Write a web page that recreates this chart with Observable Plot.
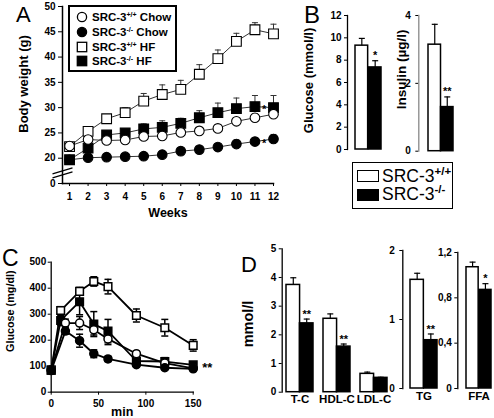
<!DOCTYPE html>
<html><head><meta charset="utf-8">
<script src="https://cdn.jsdelivr.net/npm/d3@7"></script>
<script src="https://cdn.jsdelivr.net/npm/@observablehq/plot@0.6"></script>
<style>
html,body{margin:0;padding:0;background:#fff;}
#fig{position:relative;width:494px;height:418px;background:#fff;overflow:hidden;font-family:"Liberation Sans",Arial,sans-serif;color:#000;}
.letter{position:absolute;font-size:22px;line-height:1;font-weight:normal;}
.leg{position:absolute;box-sizing:border-box;background:#fff;}
.row{position:absolute;display:flex;align-items:center;white-space:nowrap;}
.legA .row{font-size:11.5px;font-weight:bold;height:14px;}
.legA sup{font-size:7px;vertical-align:0;position:relative;top:-4px;}
.legB .row{font-size:17.5px;font-weight:normal;height:18px;}
.legB sup{font-size:11.5px;font-weight:bold;vertical-align:0;position:relative;top:-7px;}
</style></head>
<body><div id="fig"></div>
<script>
// ---------------- Panel A: body weight ----------------
const weeks = [1,2,3,4,5,6,7,8,9,10,11,12];
const wtChow    = [22.4,23.7,23.5,23.6,24.3,24.4,25.1,25.4,25.9,27.3,28.0,28.7];
const wtChowErr = [0.5,0.5,0.5,0.5,0.5,0.5,0.5,0.5,0.6,0.6,0.8,0.6];
const koChow    = [19.7,20.1,20.2,20.3,20.4,20.7,21.4,21.7,22.2,22.8,23.3,23.8];
const koChowErr = [0.5,0.4,0.7,0.4,0.4,0.7,0.5,0.6,0.7,0.8,0.7,0.9];
const wtHF      = [22.3,25.3,27.8,29.0,31.3,32.6,33.6,36.6,39.7,43.1,45.4,44.6];
const wtHFErr   = [0.6,0.5,0.5,1.0,1.5,1.9,1.8,1.9,1.7,1.6,1.4,1.9];
const koHF      = [19.7,22.0,24.6,25.0,25.8,26.1,26.9,28.0,29.0,29.8,30.2,30.0];
const koHFErr   = [0.4,0.5,0.5,0.7,1.0,1.3,1.0,1.4,1.9,2.1,2.2,2.4];
const yTicksA = [15,20,25,30,35,40,45,50];
const yBreakA = 15;          // broken axis: bottom tick is labelled "0"
const breakMarkA = 17.3;     // position of the "//" axis break
const starWeeksA = [11.5,11.5];
const starValuesA = [30.3,23.5];
const starLabelsA = ["*","*"];
const legendA = [
  ["SRC-3","+/+"," Chow","circle","white"],
  ["SRC-3","-/-"," Chow","circle","black"],
  ["SRC-3","+/+"," HF","square","white"],
  ["SRC-3","-/-"," HF","square","black"]
];

// ---------------- Panel B: fasting glucose / insulin ----------------
const genoCat = ["fasting"];
const glucoseWT = [9.3],  glucoseWTErr = [0.65];
const glucoseKO = [7.35], glucoseKOErr = [0.6];
const glucoseStar = ["*"];
const glucoseTicks = [0,2,4,6,8,10,12];
const insulinWT = [3.14], insulinWTErr = [0.6];
const insulinKO = [1.3],  insulinKOErr = [0.3];
const insulinStar = ["**"];
const insulinTicks = [0,2,4];
const legendB = [["SRC-3","+/+","white"],["SRC-3","-/-","black"]];

// ---------------- Panel C: glucose tolerance test ----------------
const minSq   = [0,10,30,45,60,90,120,150];
const minCirc = [0,15,30,45,60,90,120,150];
const cWtHF      = [85,314,388,426,406,295,248,180];
const cWtHFErr   = [10,15,15,18,28,25,32,22];
const cKoHF      = [85,276,348,262,235,120,118,105];
const cKoHFErr   = [10,20,50,48,45,12,15,10];
const cWtChow    = [86,266,266,240,205,148,112,92];
const cWtChowErr = [8,15,25,20,22,10,8,6];
const cKoChow    = [83,235,198,148,128,106,94,90];
const cKoChowErr = [8,12,25,15,10,8,6,5];
const cTicksX = [0,50,100,150];
const cTicksY = [0,100,200,300,400,500];
const cStarX = [150], cStarY = [105], cStarLabel = ["**"];

// ---------------- Panel D: serum lipids ----------------
const lipidCats = ["T-C","HDL-C","LDL-C"];
const lipidWT = [3.74,2.56,0.64], lipidWTErr = [0.25,0.17,0.06];
const lipidKO = [2.40,1.59,0.50], lipidKOErr = [0.15,0.09,0.02];
const lipidStars = ["**","**",""];
const lipidTicks = [0,1,2,3,4,5];
const tgCat = ["TG"];
const tgWT = [1.575], tgWTErr = [0.095];
const tgKO = [0.70],  tgKOErr = [0.09];
const tgStars = ["**"];
const tgTicks = [0,1,2];
const ffaCat = ["FFA"];
const ffaWT = [1.07], ffaWTErr = [0.045];
const ffaKO = [0.87], ffaKOErr = [0.055];
const ffaStars = ["*"];
const ffaTicks = [0,0.4,0.8,1.2];

// ================= helpers =================
const FONT = "'Liberation Sans', Arial, sans-serif";
const fig = document.getElementById("fig");
const style = (left, top) => ({position:"absolute", left:left+"px", top:top+"px", background:"transparent",
  overflow:"visible", fontFamily:FONT, fontSize:"10px", fontWeight:"bold", color:"black", maxWidth:"none"});
const cap = w => ({draw(ctx){ ctx.moveTo(-w/2,0); ctx.lineTo(w/2,0); }});
const breakSym = {draw(ctx){ ctx.moveTo(-10,2); ctx.lineTo(10,-4); ctx.moveTo(-10,6); ctx.lineTo(10,0); }};
const rows = (xs, vs, es) => xs.map((x,i)=>({x, v:vs[i], e:es[i]}));
const ytitle = (label, dx, dy, size) => Plot.text([label], {text:d=>d, frameAnchor:"left", textAnchor:"middle", lineAnchor:"middle",
  dx, dy, rotate:-90, fontSize:size || 12.5, fontWeight:"bold"});
const xtitle = (label, dy) => Plot.text([label], {text:d=>d, frameAnchor:"bottom", textAnchor:"middle", lineAnchor:"middle",
  dy, fontSize:12.5, fontWeight:"bold"});
function place(svg){ fig.appendChild(svg); }

// ================= Panel A =================
{
  const seriesA = [
    {v:wtHF, e:wtHFErr, symbol:"square", fill:"white", r:5.5},
    {v:koHF, e:koHFErr, symbol:"square", fill:"black", r:5.5},
    {v:wtChow, e:wtChowErr, symbol:"circle", fill:"white", r:4.8},
    {v:koChow, e:koChowErr, symbol:"circle", fill:"black", r:4.8}
  ].map(s => ({...s, d: rows(weeks, s.v, s.e)}));
  const stars = starWeeksA.map((w,i)=>({x:w, y:starValuesA[i], t:starLabelsA[i]}));
  const marks = [
    Plot.axisX({ticks:weeks, tickSize:3, tickPadding:6, label:null, fontWeight:"bold"}),
    Plot.axisY({ticks:yTicksA, tickFormat:d => d===yBreakA ? "0" : String(d), tickSize:4, tickPadding:3, label:null, fontWeight:"bold"}),
    Plot.frame({anchor:"left", strokeWidth:1.5}),
    Plot.frame({anchor:"bottom", strokeWidth:1.5}),
    Plot.dot([breakMarkA], {x:() => 0.62, y:d=>d, symbol:breakSym, stroke:"black", strokeWidth:1.2, fill:"none"}),
    ...seriesA.map(s => Plot.line(s.d, {x:"x", y:"v", stroke:"#333", strokeWidth:1})),
    ...seriesA.map(s => Plot.ruleX(s.d, {x:"x", y1:"v", y2:d=>d.v+d.e, stroke:"#333", strokeWidth:1})),
    ...seriesA.map(s => Plot.dot(s.d, {x:"x", y:d=>d.v+d.e, symbol:cap(6), stroke:"#333", strokeWidth:1})),
    ...seriesA.map(s => Plot.dot(s.d, {x:"x", y:"v", symbol:s.symbol, r:s.r, fill:s.fill, stroke:"black", strokeWidth:1.1})),
    Plot.text(stars, {x:"x", y:"y", text:"t", dy:3, fontSize:11, fontWeight:"bold"}),
    ytitle("Body weight (g)", -39, -11, 13),
    xtitle("Weeks", 29)
  ];
  place(Plot.plot({width:290, height:225, marginLeft:62, marginTop:6, marginBottom:42, marginRight:17,
    x:{domain:[0.62,12]}, y:{domain:[15,50]}, style:style(0,0), marks}));
}

// ================= bar panel helper =================
function barPanel(o){
  const band = d3.scaleBand().domain(o.cats).range(o.xRange).paddingInner(o.pad||0).paddingOuter(0);
  const bw = band.bandwidth();
  const wt = rows(o.cats, o.wt, o.wtErr), ko = rows(o.cats, o.ko, o.koErr).map((d,i)=>({...d, s:o.stars[i]}));
  const marks = [
    Plot.axisY({ticks:o.ticks, tickFormat:o.fmt || (d=>String(d)), tickSize:3, tickPadding:o.tp ?? 3, label:null, fontWeight:"bold"}),
    Plot.frame({anchor:"left", stroke:o.axisColor || "black", strokeWidth:1.3}),
    Plot.barY(wt, {x:"x", y:"v", fill:"white", stroke:"black", strokeWidth:1.5, insetRight:bw/2}),
    Plot.barY(ko, {x:"x", y:"v", fill:"black", stroke:"black", strokeWidth:1.5, insetLeft:bw/2}),
    Plot.ruleX(wt, {x:"x", y1:"v", y2:d=>d.v+d.e, dx:-bw/4, stroke:"black", strokeWidth:1.2}),
    Plot.dot(wt, {x:"x", y:d=>d.v+d.e, dx:-bw/4, symbol:cap(6), stroke:"black", strokeWidth:1.2}),
    Plot.ruleX(ko, {x:"x", y1:"v", y2:d=>d.v+d.e, dx:bw/4, stroke:"black", strokeWidth:1.2}),
    Plot.dot(ko, {x:"x", y:d=>d.v+d.e, dx:bw/4, symbol:cap(6), stroke:"black", strokeWidth:1.2}),
    Plot.text(ko, {x:"x", y:d=>d.v+d.e, text:"s", dx:bw/4, dy:-5, fontSize:11, fontWeight:"bold"})
  ];
  if (o.xLabels) marks.push(Plot.axisX({tickSize:0, tickPadding:3, label:null, fontSize:11.5, fontWeight:"bold"}));
  if (o.ylabel) marks.push(ytitle(o.ylabel, o.ldx, o.ldy||0, o.lsize));
  return Plot.plot({width:o.width, height:o.height, marginLeft:o.ml, marginTop:o.mt, marginBottom:o.mb, marginRight:0,
    x:{type:"band", domain:o.cats, range:o.xRange, paddingInner:o.pad||0, paddingOuter:0, ...(o.xLabels?{}:{axis:null})},
    y:{domain:o.yDomain}, style:style(o.left,o.top), marks});
}

// ================= Panel B =================
place(barPanel({cats:genoCat, wt:glucoseWT, wtErr:glucoseWTErr, ko:glucoseKO, koErr:glucoseKOErr, stars:glucoseStar,
  ticks:glucoseTicks, yDomain:[0,12], left:290, top:0, width:100, height:165, ml:57, mt:15, mb:16,
  xRange:[65,91.7], ylabel:"Glucose (mmol/l)", ldx:-39, ldy:-2, lsize:13}));
place(barPanel({cats:genoCat, wt:insulinWT, wtErr:insulinWTErr, ko:insulinKO, koErr:insulinKOErr, stars:insulinStar,
  ticks:insulinTicks, yDomain:[0,4], left:390, top:0, width:104, height:165, ml:28.3, mt:15, mb:14.3,
  xRange:[37.7,62.7], tp:5, axisColor:"#888", ylabel:"Insulin (µg/l)", ldx:-17, ldy:-14, lsize:13.5}));

// ================= Panel C =================
{
  const seriesC = [
    {t:minSq, v:cWtHF, e:cWtHFErr, symbol:"square", fill:"white", r:4.3},
    {t:minSq, v:cKoHF, e:cKoHFErr, symbol:"square", fill:"black", r:4.3},
    {t:minCirc, v:cWtChow, e:cWtChowErr, symbol:"circle", fill:"white", r:4},
    {t:minCirc, v:cKoChow, e:cKoChowErr, symbol:"circle", fill:"black", r:4}
  ].map(s => ({...s, d: rows(s.t, s.v, s.e)}));
  const stars = cStarX.map((x,i)=>({x, y:cStarY[i], t:cStarLabel[i]}));
  const marks = [
    Plot.axisX({ticks:cTicksX, tickSize:3, tickPadding:5, label:null, fontWeight:"bold"}),
    Plot.axisY({ticks:cTicksY, tickSize:3, tickPadding:2, label:null, fontWeight:"bold"}),
    Plot.frame({anchor:"left", strokeWidth:1.3}),
    Plot.frame({anchor:"bottom", strokeWidth:1.3}),
    ...seriesC.map(s => Plot.line(s.d, {x:"x", y:"v", stroke:"black", strokeWidth:1.8})),
    ...seriesC.map(s => Plot.ruleX(s.d, {x:"x", y1:d=>d.v-d.e, y2:d=>d.v+d.e, stroke:"black", strokeWidth:1.5})),
    ...seriesC.map(s => Plot.dot(s.d, {x:"x", y:d=>d.v+d.e, symbol:cap(7), stroke:"black", strokeWidth:1.5})),
    ...seriesC.map(s => Plot.dot(s.d, {x:"x", y:d=>d.v-d.e, symbol:cap(7), stroke:"black", strokeWidth:1.5})),
    ...seriesC.map(s => Plot.dot(s.d, {x:"x", y:"v", symbol:s.symbol, r:s.r, fill:s.fill, stroke:"black", strokeWidth:1.5})),
    Plot.text(stars, {x:"x", y:"y", text:"t", dx:14, dy:3, fontSize:13, fontWeight:"bold"}),
    ytitle("Glucose (mg/dl)", -41, -16, 10.8),
    xtitle("min", 20)
  ];
  place(Plot.plot({width:230, height:183, marginLeft:50.7, marginTop:26.7, marginBottom:26.3, marginRight:37.3,
    x:{domain:[0,150]}, y:{domain:[0,500]}, style:style(0,235), marks}));
}

// ================= Panel D =================
place(barPanel({cats:lipidCats, wt:lipidWT, wtErr:lipidWTErr, ko:lipidKO, koErr:lipidKOErr, stars:lipidStars,
  ticks:lipidTicks, yDomain:[0,5], left:230, top:235, width:165, height:183, ml:51.7, mt:13.3, mb:26.3,
  xRange:[55.7,156.7], pad:0.276, xLabels:true, ylabel:"mmol/l", ldx:-34, ldy:3.5, lsize:14.5}));
place(barPanel({cats:tgCat, wt:tgWT, wtErr:tgWTErr, ko:tgKO, koErr:tgKOErr, stars:tgStars,
  ticks:tgTicks, yDomain:[0,2], left:380, top:235, width:65, height:183, ml:22.3, mt:15, mb:30,
  xRange:[30,57.3], xLabels:true, tp:5}));
place(barPanel({cats:ffaCat, wt:ffaWT, wtErr:ffaWTErr, ko:ffaKO, koErr:ffaKOErr, stars:ffaStars,
  ticks:ffaTicks, fmt:d => String(d).replace(".", ","), yDomain:[0,1.2], left:440, top:235, width:54, height:183, ml:17.3, mt:17, mb:30,
  xRange:[26,51.7], xLabels:true, tp:3}));

// ================= Legends & panel letters (HTML) =================
{
  const lg = document.createElement("div");
  lg.className = "leg legA";
  lg.style.cssText = "left:68px;top:5px;width:109px;height:67px;border:2px solid #000;";
  const centers = [10,25,40,54];
  legendA.forEach(([pre,sup,post,sym,fill],i) => {
    const r = document.createElement("div");
    r.className = "row";
    r.style.left = "6px"; r.style.top = (centers[i]-7)+"px";
    const shape = sym === "circle"
      ? `<circle cx="6" cy="6" r="4.6" fill="${fill}" stroke="#000" stroke-width="1.3"/>`
      : `<rect x="1.3" y="1.3" width="9.4" height="9.4" fill="${fill}" stroke="#000" stroke-width="1.3"/>`;
    r.innerHTML = `<svg width="12" height="12" style="margin-right:4px">${shape}</svg><span>${pre}<sup>${sup}</sup>${post}</span>`;
    lg.appendChild(r);
  });
  fig.appendChild(lg);

  const lb = document.createElement("div");
  lb.className = "leg legB";
  lb.style.cssText = "left:352px;top:162px;width:101px;height:47px;border:1.5px solid #000;";
  const cb = [13,31.5];
  legendB.forEach(([pre,sup,fill],i) => {
    const r = document.createElement("div");
    r.className = "row";
    r.style.left = "4px"; r.style.top = (cb[i]-9)+"px";
    r.innerHTML = `<span style="display:inline-block;box-sizing:border-box;width:22px;height:12px;background:${fill};border:1.5px solid #000;margin-right:3px"></span><span>${pre}<sup>${sup}</sup></span>`;
    lb.appendChild(r);
  });
  fig.appendChild(lb);

  const letters = [["A",16,4,22],["B",304,3,24],["C",2,247,23],["D",241,254,22]];
  letters.forEach(([t,x,y,fs]) => {
    const s = document.createElement("div");
    s.className = "letter"; s.textContent = t;
    s.style.left = x+"px"; s.style.top = y+"px"; s.style.fontSize = fs+"px";
    fig.appendChild(s);
  });
}
</script>
</body></html>
